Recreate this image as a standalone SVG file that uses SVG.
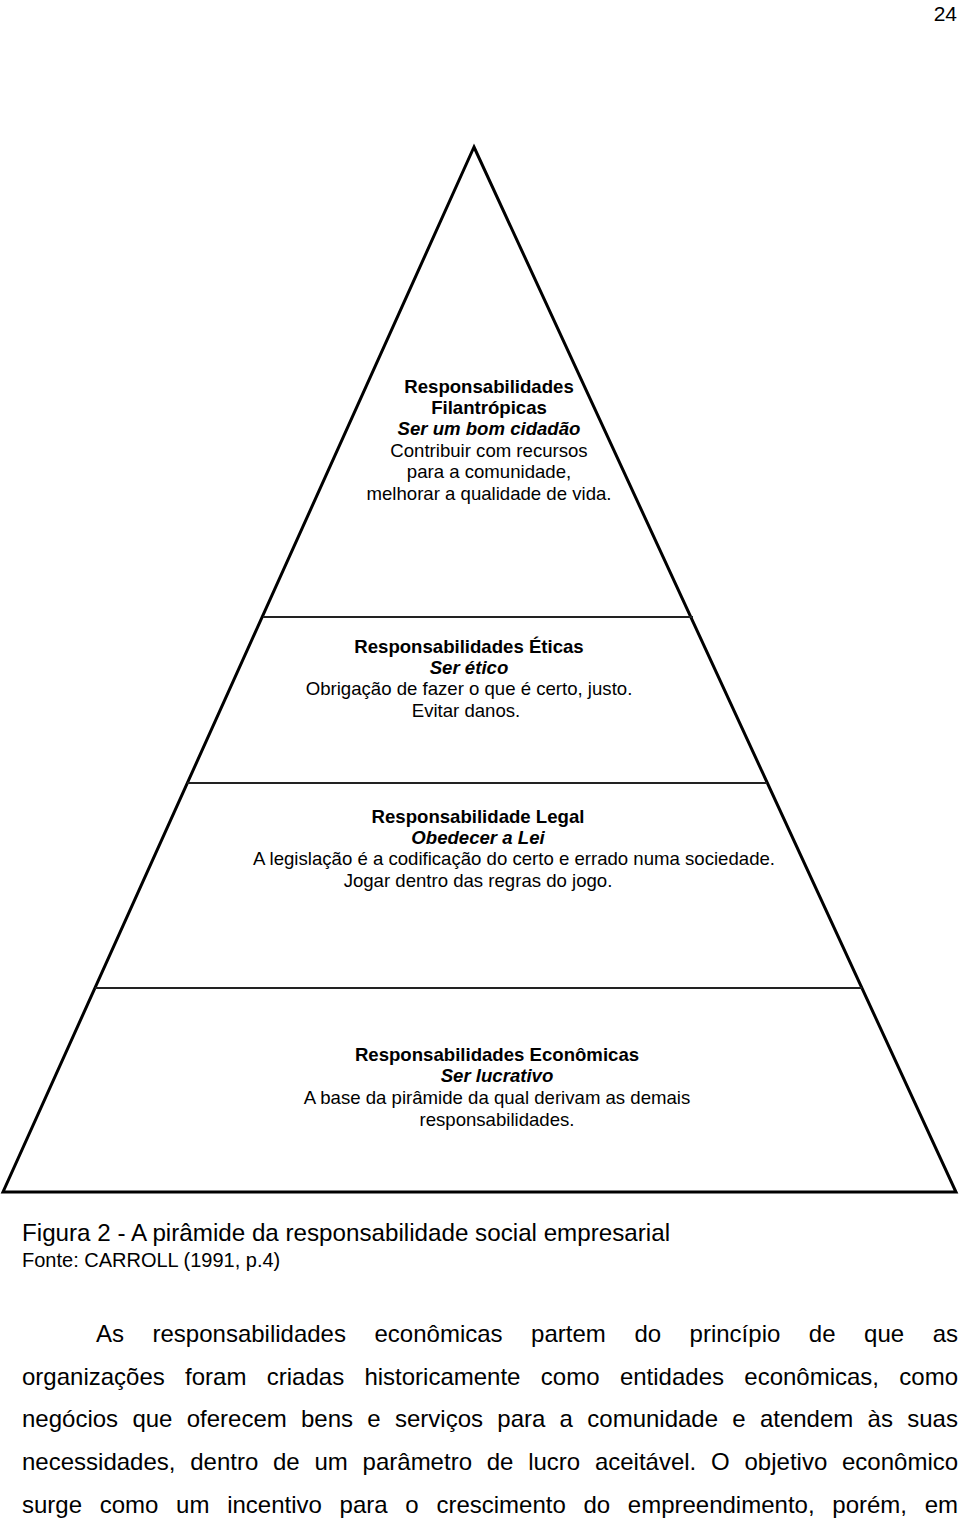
<svg xmlns="http://www.w3.org/2000/svg" width="960" height="1522" viewBox="0 0 960 1522">
<style>
text{font-family:"Liberation Sans",Arial,sans-serif;fill:#000}
.p{font-size:18.6px;text-anchor:middle}
.b{font-weight:bold}
.bi{font-weight:bold;font-style:italic}
.body{font-size:24px}
.edge{fill:none;stroke:#000;stroke-width:3;stroke-linejoin:miter}
.div{stroke:#222;stroke-width:2}
</style>
<rect width="960" height="1522" fill="#fff"/>
<text x="957" y="21" font-size="21" text-anchor="end">24</text>
<g id="pyramid">
<polygon class="edge" points="474,147 956,1192 3,1192"/>
<line class="div" x1="263" y1="617" x2="693" y2="617"/>
<line class="div" x1="187" y1="783" x2="767" y2="783"/>
<line class="div" x1="95" y1="988" x2="862" y2="988"/>
</g>
<g id="tier-filantropicas">
<text class="p b" x="489" y="393">Responsabilidades</text>
<text class="p b" x="489" y="414">Filantrópicas</text>
<text class="p bi" x="489" y="435">Ser um bom cidadão</text>
<text class="p" x="489" y="457">Contribuir com recursos</text>
<text class="p" x="489" y="478">para a comunidade,</text>
<text class="p" x="489" y="500">melhorar a qualidade de vida.</text>
</g>
<g id="tier-eticas">
<text class="p b" x="469" y="653">Responsabilidades Éticas</text>
<text class="p bi" x="469" y="674">Ser ético</text>
<text class="p" x="469" y="695">Obrigação de fazer o que é certo, justo.</text>
<text class="p" x="466" y="717">Evitar danos.</text>
</g>
<g id="tier-legal">
<text class="p b" x="478" y="823">Responsabilidade Legal</text>
<text class="p bi" x="478" y="844">Obedecer a Lei</text>
<text class="p" x="514" y="865">A legislação é a codificação do certo e errado numa sociedade.</text>
<text class="p" x="478" y="887">Jogar dentro das regras do jogo.</text>
</g>
<g id="tier-economicas">
<text class="p b" x="497" y="1061">Responsabilidades Econômicas</text>
<text class="p bi" x="497" y="1082">Ser lucrativo</text>
<text class="p" x="497" y="1104">A base da pirâmide da qual derivam as demais</text>
<text class="p" x="497" y="1126">responsabilidades.</text>
</g>
<g id="caption">
<text x="22" y="1241" font-size="24.2">Figura 2 - A pirâmide da responsabilidade social empresarial</text>
<text x="22" y="1267" font-size="20">Fonte: CARROLL (1991, p.4)</text>
</g>
<g id="paragraph" class="body">
<text class="body" y="1342"><tspan x="96">As</tspan><tspan x="152.5">responsabilidades</tspan><tspan x="374.5">econômicas</tspan><tspan x="531.1">partem</tspan><tspan x="634.4">do</tspan><tspan x="689.6">princípio</tspan><tspan x="808.8">de</tspan><tspan x="864.1">que</tspan><tspan x="932.7">as</tspan></text>
<text class="body" y="1385"><tspan x="22">organizações</tspan><tspan x="185.1">foram</tspan><tspan x="266.8">criadas</tspan><tspan x="364.4">historicamente</tspan><tspan x="540.8">como</tspan><tspan x="619.9">entidades</tspan><tspan x="744.3">econômicas,</tspan><tspan x="899.3">como</tspan></text>
<text class="body" y="1427"><tspan x="22">negócios</tspan><tspan x="132.4">que</tspan><tspan x="186.7">oferecem</tspan><tspan x="301">bens</tspan><tspan x="367.3">e</tspan><tspan x="395">serviços</tspan><tspan x="497.3">para</tspan><tspan x="559.6">a</tspan><tspan x="587.3">comunidade</tspan><tspan x="732.3">e</tspan><tspan x="759.9">atendem</tspan><tspan x="867.6">às</tspan><tspan x="907.2">suas</tspan></text>
<text class="body" y="1470"><tspan x="22">necessidades,</tspan><tspan x="190.2">dentro</tspan><tspan x="273">de</tspan><tspan x="314.5">um</tspan><tspan x="362.6">parâmetro</tspan><tspan x="486.7">de</tspan><tspan x="528.2">lucro</tspan><tspan x="594.9">aceitável.</tspan><tspan x="711.1">O</tspan><tspan x="744.5">objetivo</tspan><tspan x="842">econômico</tspan></text>
<text class="body" y="1513"><tspan x="22">surge</tspan><tspan x="99.7">como</tspan><tspan x="176.1">um</tspan><tspan x="227.2">incentivo</tspan><tspan x="339.6">para</tspan><tspan x="405.3">o</tspan><tspan x="436.4">crescimento</tspan><tspan x="583.4">do</tspan><tspan x="627.8">empreendimento,</tspan><tspan x="832.3">porém,</tspan><tspan x="924.7">em</tspan></text>
</g>
</svg>
